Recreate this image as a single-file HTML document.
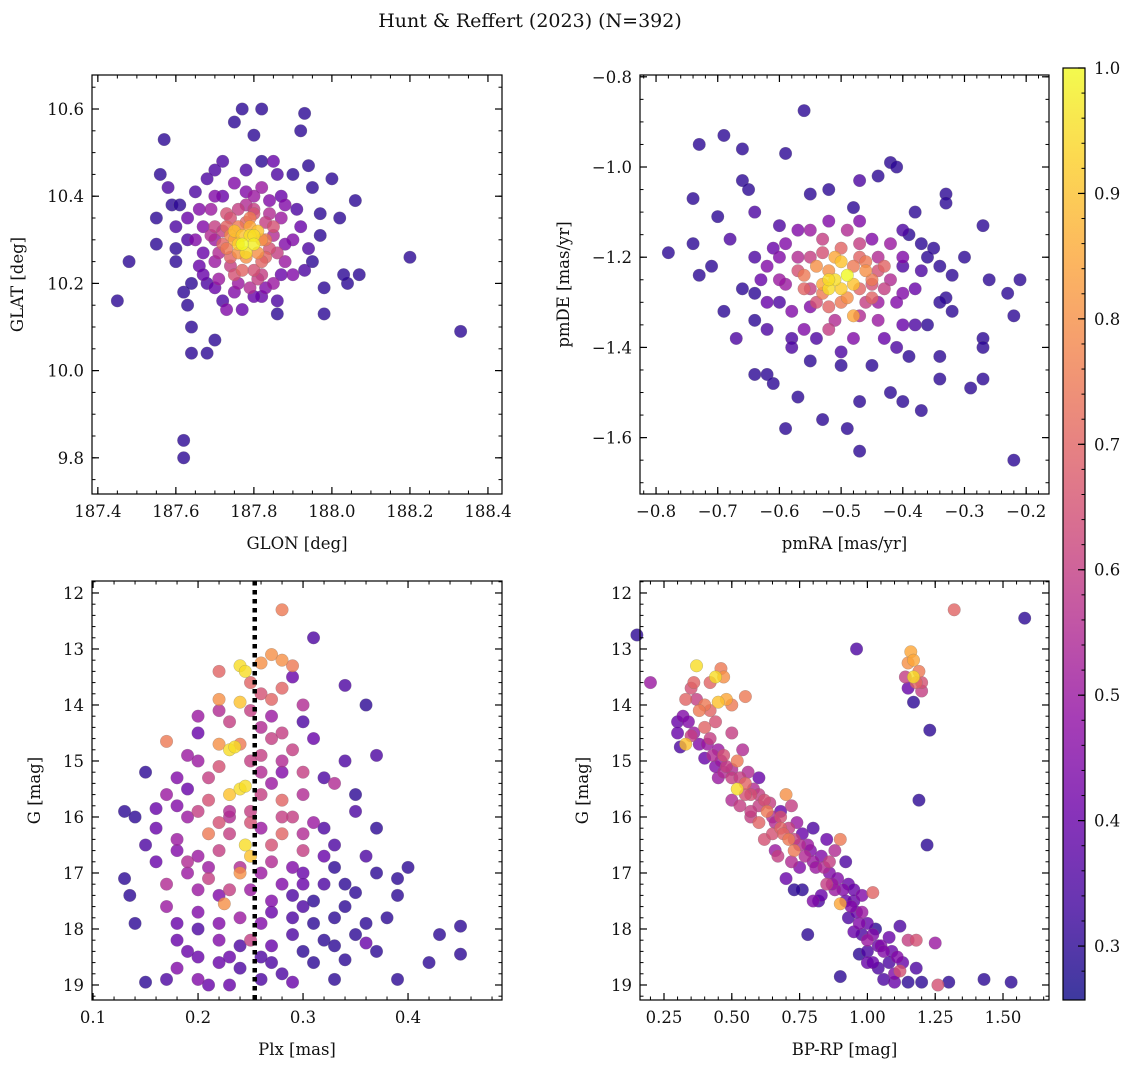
<!DOCTYPE html>
<html><head><meta charset="utf-8"><style>
html,body{margin:0;padding:0;background:#fff;}
svg text{font-family:"DejaVu Serif","Liberation Serif",serif;fill:#111;}
</style></head><body>
<svg id="fig" width="1136" height="1068" viewBox="0 0 1136 1068" xmlns="http://www.w3.org/2000/svg">
<text x="530" y="27" text-anchor="middle" font-size="19">Hunt &amp; Reffert (2023) (N=392)</text>
</svg>
<script>
// ---- Panel 1 data: GLON, GLAT, probability ----
const p1Lon=[187.45,187.48,187.55,187.55,187.56,187.57,187.58,187.59,187.6,187.62,187.63,187.64,187.64,187.62,187.62,187.68,187.7,187.72,187.75,187.77,187.8,187.82,187.85,187.87,187.9,187.92,187.93,187.94,187.95,187.97,188.0,188.02,188.06,188.07,188.04,188.03,187.98,187.98,187.95,188.2,188.33,187.86,187.82,187.77,187.73,187.68,187.66,187.65,187.66,187.7,187.75,187.82,187.88,187.9,187.9,187.85,187.7,187.7,187.73,187.8,187.85,187.86,187.82,187.75,187.72,187.76,187.82,187.78,187.75,187.79,187.77,187.8,187.78,187.81,187.75,187.6,187.63,187.68,187.92,187.94,187.69,187.84,187.83,187.74,187.79,187.71,187.88,187.79,187.8];
const p1Lat=[10.16,10.25,10.35,10.29,10.45,10.53,10.42,10.38,10.33,10.18,10.15,10.1,10.04,9.84,9.8,10.04,10.07,10.48,10.57,10.6,10.54,10.6,10.48,10.4,10.45,10.55,10.59,10.47,10.42,10.36,10.44,10.35,10.39,10.22,10.2,10.22,10.19,10.13,10.25,10.26,10.09,10.16,10.17,10.14,10.14,10.2,10.24,10.3,10.37,10.4,10.43,10.42,10.38,10.3,10.22,10.2,10.25,10.33,10.36,10.37,10.33,10.27,10.22,10.22,10.29,10.33,10.3,10.26,10.3,10.31,10.29,10.29,10.27,10.32,10.32,10.28,10.35,10.44,10.33,10.28,10.31,10.36,10.26,10.26,10.35,10.21,10.25,10.19,10.4];
const p1Prob=[.3,.3,.3,.3,.3,.3,.35,.3,.35,.3,.3,.3,.3,.3,.3,.3,.3,.35,.3,.3,.3,.3,.4,.4,.3,.3,.3,.3,.3,.3,.3,.3,.3,.3,.3,.3,.3,.3,.3,.3,.3,.35,.4,.4,.45,.35,.4,.45,.45,.45,.45,.5,.45,.45,.45,.5,.5,.6,.65,.6,.65,.6,.6,.65,.7,.75,.8,.8,.85,.95,1,.98,.95,.9,.9,.3,.4,.35,.4,.35,.55,.55,.7,.7,.75,.5,.5,.55,.5];
const p1LonCore=[187.72,187.74,187.76,187.78,187.8,187.83,187.85,187.84,187.82,187.8,187.77,187.74,187.71,187.7,187.73,187.76,187.79,187.81,187.77,187.8,187.76,187.83,187.74,187.78,187.67,187.67,187.69,187.72,187.78,187.84,187.87,187.88,187.87,187.83,187.75,187.7,187.67,187.63,187.61,187.65,187.78,187.86,187.91,187.93,187.86,187.8,187.76,187.72,187.64,187.6,187.7,187.82,187.97,187.73,187.81];
const p1LatCore=[10.32,10.35,10.37,10.38,10.36,10.34,10.31,10.28,10.25,10.23,10.23,10.24,10.27,10.3,10.28,10.27,10.33,10.27,10.31,10.31,10.29,10.3,10.31,10.34,10.27,10.33,10.37,10.4,10.41,10.39,10.35,10.29,10.22,10.19,10.18,10.19,10.22,10.3,10.38,10.41,10.46,10.45,10.37,10.23,10.13,10.17,10.2,10.16,10.2,10.25,10.46,10.48,10.31,10.33,10.21];
const p1ProbCore=[.6,.65,.6,.55,.65,.6,.55,.65,.7,.65,.7,.6,.55,.5,.75,.8,.85,.8,.9,.95,.92,.75,.78,.7,.4,.45,.5,.4,.45,.45,.5,.45,.4,.45,.45,.4,.4,.35,.3,.35,.35,.35,.35,.35,.3,.4,.5,.35,.3,.3,.35,.3,.3,.7,.6];
// ---- Panel 2 data: pmRA, pmDE, probability ----
const p2Ra=[-0.56,-0.69,-0.73,-0.66,-0.59,-0.74,-0.66,-0.65,-0.7,-0.64,-0.55,-0.52,-0.47,-0.44,-0.42,-0.41,-0.33,-0.33,-0.27,-0.38,-0.48,-0.78,-0.74,-0.73,-0.71,-0.68,-0.64,-0.64,-0.69,-0.67,-0.62,-0.64,-0.62,-0.61,-0.57,-0.55,-0.59,-0.53,-0.49,-0.47,-0.47,-0.42,-0.4,-0.37,-0.34,-0.29,-0.27,-0.22,-0.22,-0.27,-0.27,-0.26,-0.21,-0.23,-0.32,-0.33,-0.35,-0.37,-0.39,-0.36,-0.4,-0.36,-0.34,-0.38,-0.41,-0.45,-0.5,-0.54,-0.58,-0.6,-0.55,-0.52,-0.47,-0.44,-0.4,-0.42,-0.44,-0.47,-0.53,-0.57,-0.59,-0.62,-0.61,-0.57,-0.45,-0.47,-0.48,-0.45,-0.52,-0.5,-0.53,-0.51,-0.49,-0.52,-0.5,-0.48,-0.56,-0.43,-0.46,-0.55,-0.4,-0.32,-0.3];
const p2De=[-0.875,-0.93,-0.95,-0.96,-0.97,-1.07,-1.03,-1.05,-1.11,-1.1,-1.06,-1.05,-1.03,-1.02,-0.99,-1.0,-1.06,-1.08,-1.13,-1.1,-1.09,-1.19,-1.17,-1.24,-1.22,-1.16,-1.28,-1.34,-1.32,-1.38,-1.36,-1.46,-1.46,-1.48,-1.51,-1.43,-1.58,-1.56,-1.58,-1.63,-1.52,-1.5,-1.52,-1.54,-1.47,-1.49,-1.47,-1.65,-1.33,-1.38,-1.4,-1.25,-1.25,-1.28,-1.24,-1.29,-1.18,-1.17,-1.15,-1.2,-1.22,-1.35,-1.42,-1.35,-1.4,-1.44,-1.44,-1.38,-1.38,-1.3,-1.31,-1.36,-1.33,-1.3,-1.28,-1.25,-1.2,-1.17,-1.16,-1.2,-1.26,-1.22,-1.18,-1.14,-1.16,-1.27,-1.22,-1.25,-1.23,-1.3,-1.28,-1.25,-1.24,-1.27,-1.21,-1.33,-1.24,-1.22,-1.3,-1.27,-1.35,-1.32,-1.2];
const p2Prob=[.3,.3,.3,.3,.3,.3,.3,.3,.3,.35,.3,.3,.35,.3,.3,.3,.3,.3,.3,.3,.3,.3,.3,.3,.3,.35,.3,.3,.3,.35,.35,.3,.3,.3,.3,.3,.3,.3,.3,.3,.3,.3,.3,.3,.3,.3,.3,.3,.3,.3,.3,.3,.3,.3,.3,.3,.3,.3,.3,.3,.35,.3,.3,.35,.35,.3,.3,.35,.35,.35,.45,.6,.55,.5,.45,.55,.55,.6,.6,.55,.5,.45,.4,.45,.45,.7,.75,.75,.8,.75,.75,.95,1,.95,.9,.85,.75,.7,.6,.6,.4,.3,.3];
const p2RaCore=[-0.55,-0.53,-0.5,-0.47,-0.44,-0.43,-0.45,-0.49,-0.54,-0.56,-0.57,-0.54,-0.51,-0.48,-0.52,-0.5,-0.46,-0.53,-0.6,-0.6,-0.58,-0.51,-0.44,-0.41,-0.4,-0.42,-0.49,-0.55,-0.59,-0.63,-0.62,-0.56,-0.48,-0.43,-0.38,-0.37,-0.4,-0.47,-0.52,-0.6,-0.64,-0.66,-0.58,-0.5,-0.39,-0.34,-0.34,-0.46,-0.52,-0.45];
const p2DeCore=[-1.2,-1.19,-1.18,-1.2,-1.23,-1.27,-1.29,-1.29,-1.3,-1.27,-1.23,-1.22,-1.2,-1.26,-1.25,-1.27,-1.23,-1.26,-1.2,-1.25,-1.32,-1.34,-1.34,-1.3,-1.2,-1.17,-1.14,-1.14,-1.17,-1.25,-1.3,-1.36,-1.38,-1.38,-1.27,-1.23,-1.14,-1.12,-1.12,-1.13,-1.2,-1.27,-1.4,-1.41,-1.42,-1.3,-1.22,-1.21,-1.31,-1.26];
const p2ProbCore=[.6,.65,.7,.7,.65,.6,.7,.8,.65,.7,.65,.8,.85,.9,.95,.92,.8,.85,.45,.5,.45,.55,.5,.45,.45,.5,.55,.5,.45,.4,.4,.45,.45,.4,.4,.35,.35,.45,.45,.35,.35,.3,.35,.35,.3,.3,.3,.75,.7,.65];
// ---- Panel 3 data: Plx, G, probability ----
const p3Plx=[0.28,0.31,0.24,0.245,0.26,0.27,0.28,0.22,0.29,0.34,0.22,0.24,0.28,0.27,0.36,0.2,0.23,0.26,0.3,0.17,0.2,0.24,0.27,0.29,0.37,0.22,0.23,0.235,0.25,0.15,0.2,0.21,0.26,0.3,0.32,0.33,0.24,0.245,0.23,0.17,0.19,0.13,0.14,0.16,0.2,0.22,0.25,0.28,0.29,0.31,0.35,0.37,0.16,0.18,0.21,0.245,0.25,0.27,0.28,0.3,0.33,0.36,0.4,0.13,0.135,0.17,0.19,0.21,0.23,0.26,0.28,0.3,0.32,0.35,0.39,0.39,0.17,0.2,0.225,0.24,0.27,0.3,0.33,0.36,0.38,0.18,0.2,0.22,0.25,0.27,0.29,0.32,0.35,0.36,0.43,0.45,0.15,0.18,0.2,0.21,0.23,0.24,0.26,0.29,0.31,0.34,0.39,0.42,0.45,0.2,0.23,0.26,0.29,0.31,0.22,0.28,0.3,0.25,0.19,0.33,0.27,0.24];
const p3G=[12.3,12.8,13.3,13.4,13.25,13.1,13.2,13.4,13.5,13.65,13.9,13.95,13.7,13.9,14.0,14.2,14.3,14.4,14.3,14.65,14.5,14.7,14.6,14.8,14.9,14.7,14.8,14.75,15,15.2,15,15.3,15.2,15.2,15.3,15.4,15.5,15.45,15.6,15.6,15.5,15.9,16,15.85,15.9,16.1,15.9,15.7,16.0,16.1,15.9,16.2,16.2,16.4,16.3,16.5,16.7,16.5,16.3,16.6,16.5,16.7,16.9,17.1,17.4,17.2,17.0,17.1,17.3,17.0,17.2,17.0,17.2,17.35,17.1,17.4,17.6,17.7,17.55,17.8,17.7,17.6,17.8,17.9,17.8,18.2,18.0,18.2,18.2,18.3,18.1,18.2,18.1,18.25,18.1,17.95,18.95,18.7,18.9,19,19,18.7,18.9,18.95,18.6,18.55,18.9,18.6,18.45,16.7,16.0,16.2,17.4,17.5,17.4,15.2,14.0,14.1,16.8,16.9,18.6,17.0];
const p3Prob=[.75,.35,.95,.95,.8,.8,.8,.7,.4,.35,.8,.9,.7,.7,.3,.5,.6,.55,.35,.75,.4,.75,.6,.6,.35,.8,.95,.95,.6,.3,.5,.6,.55,.6,.35,.55,.95,.95,.9,.5,.4,.3,.3,.4,.6,.65,.6,.7,.6,.5,.35,.3,.4,.5,.75,.95,.9,.65,.7,.6,.35,.35,.3,.3,.3,.55,.5,.6,.6,.5,.45,.4,.35,.3,.3,.3,.5,.45,.8,.5,.4,.35,.3,.3,.3,.4,.35,.45,.6,.4,.35,.3,.3,.4,.3,.3,.3,.45,.45,.4,.4,.35,.35,.4,.3,.3,.3,.3,.3,.5,.55,.5,.35,.3,.45,.45,.55,.6,.55,.3,.35,.8];
const p3PlxMore=[0.25,0.26,0.29,0.22,0.27,0.31,0.19,0.26,0.28,0.22,0.18,0.27,0.3,0.21,0.26,0.19,0.28,0.23,0.3,0.32,0.18,0.22,0.27,0.29,0.16,0.2,0.25,0.27,0.34,0.37,0.18,0.22,0.26,0.29,0.31,0.34,0.19,0.23,0.26,0.3,0.33,0.37,0.17,0.22,0.28,0.33,0.14,0.15,0.35,0.34,0.24,0.21,0.3,0.32,0.18,0.25,0.28,0.23,0.2,0.24];
const p3GMore=[13.6,13.8,13.3,14.1,14.2,14.6,14.9,14.9,15.0,15.1,15.3,15.4,15.6,15.7,15.6,16.0,16.0,16.3,16.3,16.7,16.6,16.6,16.8,16.9,16.8,17.3,17.3,17.5,17.2,17.0,17.9,17.9,17.9,17.8,17.9,17.6,18.4,18.5,18.5,18.4,18.3,18.4,18.9,18.6,18.8,18.9,17.9,16.5,15.6,15.0,16.9,16.9,17.2,16.2,15.8,16.1,14.5,15.9,18.5,18.3];
const p3ProbMore=[.7,.65,.75,.55,.5,.4,.5,.6,.55,.65,.45,.5,.55,.65,.6,.5,.6,.6,.55,.4,.45,.6,.55,.45,.4,.5,.5,.45,.3,.3,.4,.45,.45,.35,.3,.3,.4,.4,.35,.3,.3,.3,.35,.4,.35,.3,.3,.35,.3,.35,.55,.5,.4,.35,.45,.65,.6,.55,.4,.35];
// ---- Panel 4 data: BP-RP, G, probability ----
const p4Col=[0.15,0.2,1.32,1.58,0.96,0.3,0.32,0.3,0.31,0.33,0.35,0.37,0.36,0.33,0.37,0.4,0.42,0.44,0.46,0.47,0.45,0.48,0.55,0.4,0.42,0.45,0.47,0.5,0.52,0.54,0.4,0.44,0.47,0.5,0.52,0.55,0.57,0.6,0.6,0.63,0.65,0.68,0.7,0.72,0.74,0.68,0.71,0.73,0.76,0.78,0.8,0.8,0.83,0.85,0.86,0.88,0.9,0.92,0.76,0.82,0.85,0.88,0.9,0.93,0.95,0.98,1.02,0.78,0.93,0.95,0.97,1.0,1.03,1.05,1.08,1.12,1.15,1.18,1.25,0.97,1.0,1.04,1.08,1.1,1.12,1.15,1.2,1.26,1.3,1.43,1.53,1.18,0.9,1.22,1.19,1.23,1.15,1.16,1.17,1.17,1.14,1.15,1.17,1.19,1.2,1.2,1.18,0.62,0.66,0.75,0.7,0.73,0.57,0.53];
const p4G=[12.75,13.6,12.3,12.45,13.0,14.3,14.2,14.5,14.75,14.7,14.55,13.3,13.6,13.9,13.9,14.0,13.6,13.5,13.35,13.5,13.95,13.9,13.85,14.4,14.6,14.8,14.9,14.5,15.0,14.8,14.95,15.1,15.2,15.3,15.5,15.4,15.6,15.3,15.8,15.9,16.0,15.9,15.6,15.8,16.1,16.2,16.4,16.6,16.3,16.5,16.2,16.8,16.7,16.4,17.0,16.6,16.4,16.8,17.3,17.5,17.2,17.3,17.55,17.2,17.5,17.4,17.35,18.1,17.8,18.05,17.9,18.2,18.0,18.3,18.15,17.95,18.2,18.2,18.25,18.45,18.6,18.7,18.6,18.8,18.75,18.95,18.95,19.0,18.95,18.9,18.95,18.7,18.85,16.5,15.7,14.45,13.25,13.05,13.2,13.5,13.5,13.7,13.95,13.4,13.6,13.75,13.6,16.4,16.6,16.9,17.1,17.3,16.0,15.8];
const p4Prob=[.3,.5,.7,.3,.35,.4,.45,.4,.35,.9,.6,.95,.7,.7,.6,.75,.7,.95,.75,.8,.9,.85,.75,.7,.6,.5,.65,.6,.75,.55,.4,.45,.55,.6,.95,.7,.65,.4,.6,.75,.55,.4,.8,.6,.5,.7,.75,.75,.4,.5,.35,.5,.45,.4,.45,.55,.75,.35,.3,.35,.6,.5,.85,.4,.4,.45,.7,.3,.35,.4,.45,.5,.3,.45,.4,.35,.6,.65,.5,.3,.4,.35,.35,.45,.65,.3,.3,.65,.3,.3,.3,.35,.3,.3,.3,.3,.8,.85,.85,.95,.6,.4,.3,.75,.65,.6,.7,.65,.5,.45,.4,.3,.6,.6];
const p4ColMore=[0.34,0.36,0.38,0.41,0.43,0.46,0.48,0.5,0.53,0.55,0.58,0.6,0.62,0.64,0.66,0.68,0.69,0.71,0.73,0.75,0.77,0.79,0.81,0.84,0.86,0.87,0.89,0.91,0.92,0.94,0.96,0.98,1.0,1.02,1.04,1.06,1.09,1.11,1.13,1.0,1.02,1.06,1.1,0.98,0.95,0.83,0.8,0.72,0.65,0.6,0.57,0.5,0.45,0.38,0.42,0.5,0.35,0.44,0.56,0.67];
const p4GMore=[14.3,14.5,14.7,14.7,14.9,15.0,15.1,15.15,15.3,15.6,15.5,15.6,15.7,15.75,16.1,16.0,16.3,16.2,16.4,16.5,16.7,16.6,16.9,16.9,16.8,17.2,17.1,17.3,17.5,17.6,17.7,17.7,17.9,18.1,18.3,18.4,18.4,18.5,18.6,18.4,18.6,18.9,18.95,18.1,17.3,17.4,17.5,16.8,16.3,16.1,15.9,15.7,15.3,14.1,14.1,14.0,13.7,14.3,15.2,16.7];
const p4ProbMore=[.45,.5,.45,.5,.55,.5,.6,.55,.6,.65,.55,.6,.65,.6,.55,.65,.7,.6,.6,.55,.55,.45,.5,.55,.6,.5,.45,.45,.4,.45,.4,.5,.4,.45,.4,.45,.4,.45,.4,.35,.4,.35,.4,.35,.4,.4,.45,.55,.65,.7,.6,.55,.5,.75,.7,.75,.65,.65,.55,.6];
// colorbar
const cbTicks=[0.3,0.4,0.5,0.6,0.7,0.8,0.9,1.0];
const cMin=0.257,cMax=1.0;

const NS="http://www.w3.org/2000/svg";
const svg=document.getElementById('fig');
function el(tag,attrs,parent){const e=document.createElementNS(NS,tag);for(const k in attrs)e.setAttribute(k,attrs[k]);(parent||svg).appendChild(e);return e;}
const stops=[[0,13,8,135],[.1,65,4,157],[.2,106,0,168],[.3,143,13,164],[.4,177,42,144],[.5,204,71,120],[.6,225,100,98],[.7,242,132,75],[.8,252,166,54],[.9,252,206,37],[1,240,249,33]];
function plasma(v){v=Math.max(0,Math.min(1,v));for(let i=1;i<stops.length;i++){if(v<=stops[i][0]){const a=stops[i-1],b=stops[i],t=(v-a[0])/(b[0]-a[0]);return `rgb(${Math.round(a[1]+t*(b[1]-a[1]))},${Math.round(a[2]+t*(b[2]-a[2]))},${Math.round(a[3]+t*(b[3]-a[3]))})`;}}return 'rgb(240,249,33)';}
function cnorm(c){return (c-cMin)/(cMax-cMin);}
function fmt(v,d){let s=v.toFixed(d);return s.replace('-','\u2212');}

function panel(cfg){
  const {name,L,T,R,B,x0,x1,y0,y1,xs,ys,cs,xMaj,xMin,yMaj,yMin,xd,yd,xlab,ylab,vline}=cfg;
  const g=el('g',{});
  
  
  const X=v=>L+(v-x0)/(x1-x0)*(R-L);
  const Y=v=>T+(v-y0)/(y1-y0)*(B-T);
  const idx=xs.map((_,i)=>i).sort((a,b)=>cs[a]-cs[b]);
  const pts=el('g',{},g);
  
  
  idx.forEach(i=>{
    const c=el('circle',{cx:X(xs[i]),cy:Y(ys[i]),r:6.3,fill:plasma(cnorm(cs[i])),'fill-opacity':0.8,stroke:'#777','stroke-width':0.4,'stroke-opacity':0.6},pts);
    
    
  });
  if(vline!==undefined){
    const vl=el('line',{x1:X(vline),x2:X(vline),y1:T,y2:B,stroke:'#000','stroke-width':4.5,'stroke-dasharray':'4.5,4.5'},g);
    
    
  }
  const fr=el('rect',{x:L,y:T,width:R-L,height:B-T,fill:'none',stroke:'#000','stroke-width':1.2},g);
  
  
  const xlo=Math.min(x0,x1),xhi=Math.max(x0,x1),ylo=Math.min(y0,y1),yhi=Math.max(y0,y1);
  function ticks(step,lo,hi){const r=[];for(let k=Math.ceil(lo/step-1e-6);k*step<=hi+1e-9;k++)r.push(k*step);return r;}
  ticks(xMin,xlo,xhi).forEach(v=>{const x=X(v);el('line',{x1:x,x2:x,y1:B,y2:B-3.5,stroke:'#000','stroke-width':1},g);el('line',{x1:x,x2:x,y1:T,y2:T+3.5,stroke:'#000','stroke-width':1},g);});
  ticks(yMin,ylo,yhi).forEach(v=>{const y=Y(v);el('line',{x1:L,x2:L+3.5,y1:y,y2:y,stroke:'#000','stroke-width':1},g);el('line',{x1:R,x2:R-3.5,y1:y,y2:y,stroke:'#000','stroke-width':1},g);});
  ticks(xMaj,xlo,xhi).forEach(v=>{const x=X(v);el('line',{x1:x,x2:x,y1:B,y2:B-7,stroke:'#000','stroke-width':1.2},g);el('line',{x1:x,x2:x,y1:T,y2:T+7,stroke:'#000','stroke-width':1.2},g);
    const t=el('text',{x:x,y:B+23,'text-anchor':'middle','font-size':16.5},g);t.textContent=fmt(v,xd);
    });
  ticks(yMaj,ylo,yhi).forEach(v=>{const y=Y(v);el('line',{x1:L,x2:L+7,y1:y,y2:y,stroke:'#000','stroke-width':1.2},g);el('line',{x1:R,x2:R-7,y1:y,y2:y,stroke:'#000','stroke-width':1.2},g);
    const t=el('text',{x:L-8,y:y+6,'text-anchor':'end','font-size':16.5},g);t.textContent=fmt(v,yd);
    });
  const xl=el('text',{x:(L+R)/2,y:B+55,'text-anchor':'middle','font-size':16.5},g);xl.textContent=xlab;
  
  const yx=cfg.ylx, yl=el('text',{x:yx,y:(T+B)/2,'text-anchor':'middle','font-size':16.5,transform:`rotate(-90 ${yx} ${(T+B)/2})`},g);yl.textContent=ylab;
  
}
panel({name:'glon-glat-panel',L:92,T:75,R:502,B:494,x0:187.385,x1:188.436,y0:10.678,y1:9.717,xs:p1Lon.concat(p1LonCore),ys:p1Lat.concat(p1LatCore),cs:p1Prob.concat(p1ProbCore),xMaj:0.2,xMin:0.05,yMaj:0.2,yMin:0.05,xd:1,yd:1,xlab:'GLON [deg]',ylab:'GLAT [deg]',ylx:23});
panel({name:'proper-motion-panel',L:640,T:75,R:1049,B:494,x0:-0.826,x1:-0.163,y0:-0.796,y1:-1.725,xs:p2Ra.concat(p2RaCore),ys:p2De.concat(p2DeCore),cs:p2Prob.concat(p2ProbCore),xMaj:0.1,xMin:0.02,yMaj:0.2,yMin:0.05,xd:1,yd:1,xlab:'pmRA [mas/yr]',ylab:'pmDE [mas/yr]',ylx:569});
panel({name:'parallax-mag-panel',L:92,T:581,R:502,B:1000,x0:0.099,x1:0.4895,y0:11.786,y1:19.268,xs:p3Plx.concat(p3PlxMore),ys:p3G.concat(p3GMore),cs:p3Prob.concat(p3ProbMore),xMaj:0.1,xMin:0.02,yMaj:1,yMin:0.2,xd:1,yd:0,xlab:'Plx [mas]',ylab:'G [mag]',ylx:40,vline:0.254});
panel({name:'cmd-panel',L:640,T:581,R:1049,B:1000,x0:0.1615,x1:1.6696,y0:11.786,y1:19.268,xs:p4Col.concat(p4ColMore),ys:p4G.concat(p4GMore),cs:p4Prob.concat(p4ProbMore),xMaj:0.25,xMin:0.05,yMaj:1,yMin:0.2,xd:2,yd:0,xlab:'BP-RP [mag]',ylab:'G [mag]',ylx:588});

// colorbar
(function(){
  const L=1063,R=1085,T=68,B=1000;
  const g=el('g',{});
  
  
  const defs=el('defs',{},g);
  const lg=el('linearGradient',{id:'cbg',x1:0,y1:1,x2:0,y2:0},defs);
  for(let i=0;i<=20;i++){const v=i/20;el('stop',{offset:v,'stop-color':plasma(v)},lg);}
  el('rect',{x:L,y:T,width:R-L,height:B-T,fill:'url(#cbg)','fill-opacity':0.8},g);
  el('rect',{x:L,y:T,width:R-L,height:B-T,fill:'none',stroke:'#000','stroke-width':1.2},g);
  const Y=v=>B-(v-cMin)/(cMax-cMin)*(B-T);
  for(let k=14;k<=50;k++){const v=k*0.02;if(v<cMin||v>cMax+1e-9)continue;const y=Y(v);el('line',{x1:R,x2:R-3.5,y1:y,y2:y,stroke:'#000','stroke-width':1},g);}
  cbTicks.forEach(v=>{const y=Y(v);el('line',{x1:R,x2:R-7,y1:y,y2:y,stroke:'#000','stroke-width':1.2},g);
    const t=el('text',{x:R+9,y:y+6,'font-size':16.5},g);t.textContent=v.toFixed(1);
    });
})();
</script>
</body></html>
